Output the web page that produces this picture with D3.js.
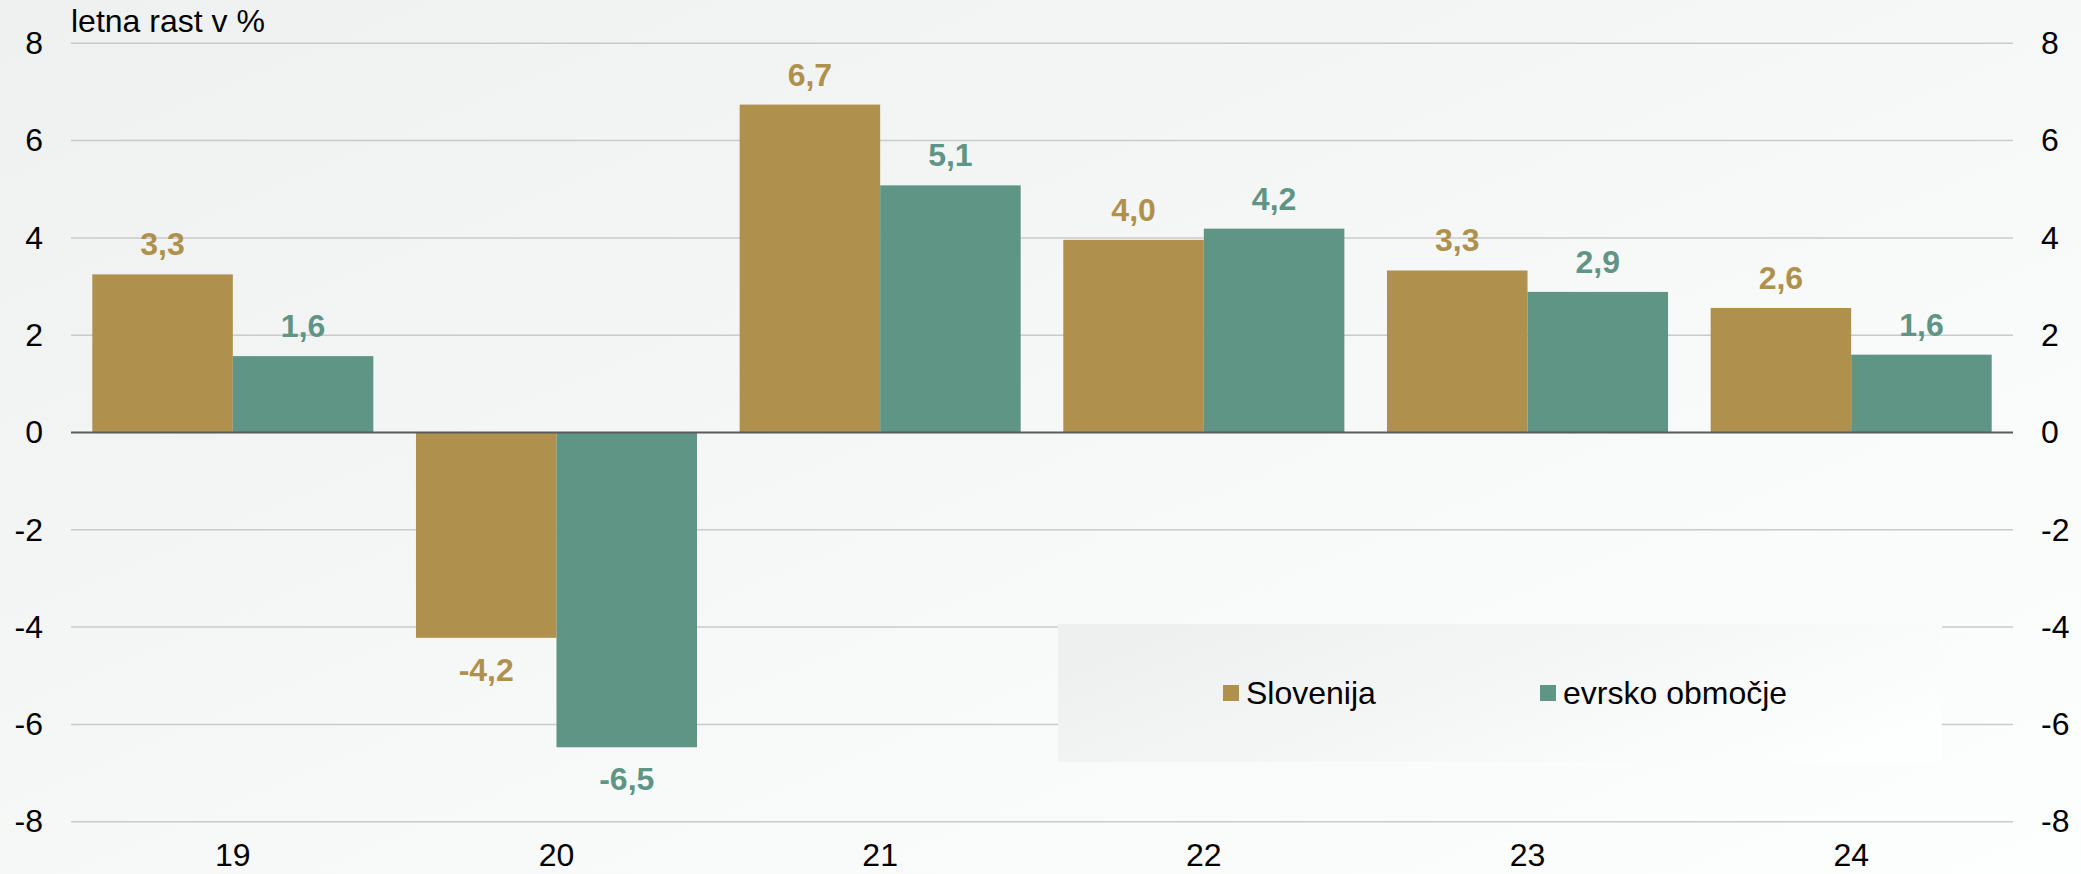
<!DOCTYPE html>
<html>
<head>
<meta charset="utf-8">
<script src="https://cdn.jsdelivr.net/npm/d3@7"></script>
<style>
  html, body { margin: 0; padding: 0; background: #ffffff; }
  svg { display: block; font-family: "Liberation Sans", Arial, sans-serif; }
</style>
</head>
<body>
<svg id="chart" width="2081" height="874"></svg>
<script>
// ---- data ----
const categories = ["19", "20", "21", "22", "23", "24"];
const seriesNames = ["Slovenija", "evrsko območje"];
const slovenija = [3.25, -4.22, 6.74, 3.96, 3.33, 2.56];
const evrsko = [1.57, -6.47, 5.08, 4.19, 2.89, 1.60];
const yTicks = [-8, -6, -4, -2, 0, 2, 4, 6, 8];
const axisTitle = "letna rast v %";
const colors = ["#AF904C", "#5F9584"];

(function () {
// ---- layout ----
const W = 2081, H = 874;
const mLeft = 71, mRight = 2013, mTop = 43.3, mBottom = 821.7;

const svg = d3.select("#chart");
const defs = svg.append("defs");
const bg = defs.append("linearGradient").attr("id", "bg")
  .attr("x1", "0%").attr("y1", "0%").attr("x2", "100%").attr("y2", "100%");
bg.append("stop").attr("offset", "0%").attr("stop-color", "#eef1f0");
bg.append("stop").attr("offset", "55%").attr("stop-color", "#f7f8f8");
bg.append("stop").attr("offset", "100%").attr("stop-color", "#fdfefe");
const lg = defs.append("linearGradient").attr("id", "lg")
  .attr("x1", "0%").attr("y1", "30%").attr("x2", "100%").attr("y2", "70%");
lg.append("stop").attr("offset", "0%").attr("stop-color", "#edf0ef");
lg.append("stop").attr("offset", "100%").attr("stop-color", "#fdfefe");

svg.append("rect").attr("x", 0).attr("y", 0).attr("width", W).attr("height", H).attr("fill", "url(#bg)");

const x0 = d3.scaleBand().domain(categories).range([mLeft, mRight])
  .paddingInner(0.1317).paddingOuter(0.0658);
const x1 = d3.scaleBand().domain(seriesNames).range([0, x0.bandwidth()]);
const y = d3.scaleLinear().domain([-8, 8]).range([mBottom, mTop]);

// gridlines
svg.append("g").selectAll("line").data(yTicks.filter(d => d !== 0)).join("line")
  .attr("x1", mLeft).attr("x2", mRight)
  .attr("y1", d => y(d)).attr("y2", d => y(d))
  .attr("stroke", "#cacaca").attr("stroke-width", 1.5);

// legend box (covers gridlines)
const legendBox = { x: 1058, y: 624, w: 884, h: 138 };
svg.append("rect").attr("x", legendBox.x).attr("y", legendBox.y)
  .attr("width", legendBox.w).attr("height", legendBox.h).attr("fill", "url(#lg)");

// bars
const rows = categories.map((c, i) => ({ cat: c, vals: [slovenija[i], evrsko[i]] }));
const groups = svg.append("g").selectAll("g").data(rows).join("g")
  .attr("transform", d => `translate(${x0(d.cat)},0)`);
groups.selectAll("rect").data(d => d.vals.map((v, k) => ({ v, k }))).join("rect")
  .attr("x", d => x1(seriesNames[d.k]))
  .attr("width", x1.bandwidth())
  .attr("y", d => y(Math.max(0, d.v)))
  .attr("height", d => Math.abs(y(d.v) - y(0)))
  .attr("fill", d => colors[d.k]);

// value labels
groups.selectAll("text").data(d => d.vals.map((v, k) => ({ v, k }))).join("text")
  .attr("x", d => x1(seriesNames[d.k]) + x1.bandwidth() / 2)
  .attr("y", d => d.v >= 0 ? y(d.v) - 19 : y(d.v) + 43)
  .attr("text-anchor", "middle")
  .attr("font-size", 32).attr("font-weight", "bold")
  .attr("fill", d => colors[d.k])
  .text(d => d.v.toFixed(1).replace(".", ","));

// zero line
svg.append("line").attr("x1", mLeft).attr("x2", mRight)
  .attr("y1", y(0)).attr("y2", y(0))
  .attr("stroke", "#5a5a5a").attr("stroke-width", 2);

// axes
const fmt = d => String(d);
const la = svg.append("g").attr("transform", `translate(${mLeft},0)`)
  .call(d3.axisLeft(y).tickValues(yTicks).tickSize(0).tickPadding(28).tickFormat(fmt));
const ra = svg.append("g").attr("transform", `translate(${mRight},0)`)
  .call(d3.axisRight(y).tickValues(yTicks).tickSize(0).tickPadding(28).tickFormat(fmt));
const ba = svg.append("g").attr("transform", `translate(0,${mBottom})`)
  .call(d3.axisBottom(x0).tickSize(0).tickPadding(22));
[la, ra, ba].forEach(g => {
  g.select(".domain").remove();
  g.selectAll("text").attr("font-size", 32).attr("fill", "#000")
    .attr("font-family", "Liberation Sans, Arial, sans-serif");
});

// axis title
svg.append("text").attr("x", mLeft).attr("y", 32)
  .attr("font-size", 32).attr("fill", "#000").text(axisTitle);

// legend
const legendItems = [{ name: seriesNames[0], sx: 1223 }, { name: seriesNames[1], sx: 1540 }];
const li = svg.append("g").selectAll("g").data(legendItems).join("g");
li.append("rect").attr("x", d => d.sx).attr("y", 685).attr("width", 16).attr("height", 16)
  .attr("fill", (d, i) => colors[i]);
li.append("text").attr("x", d => d.sx + 23).attr("y", 704)
  .attr("font-size", 32).attr("fill", "#000").text(d => d.name);
})();
</script>
</body>
</html>
